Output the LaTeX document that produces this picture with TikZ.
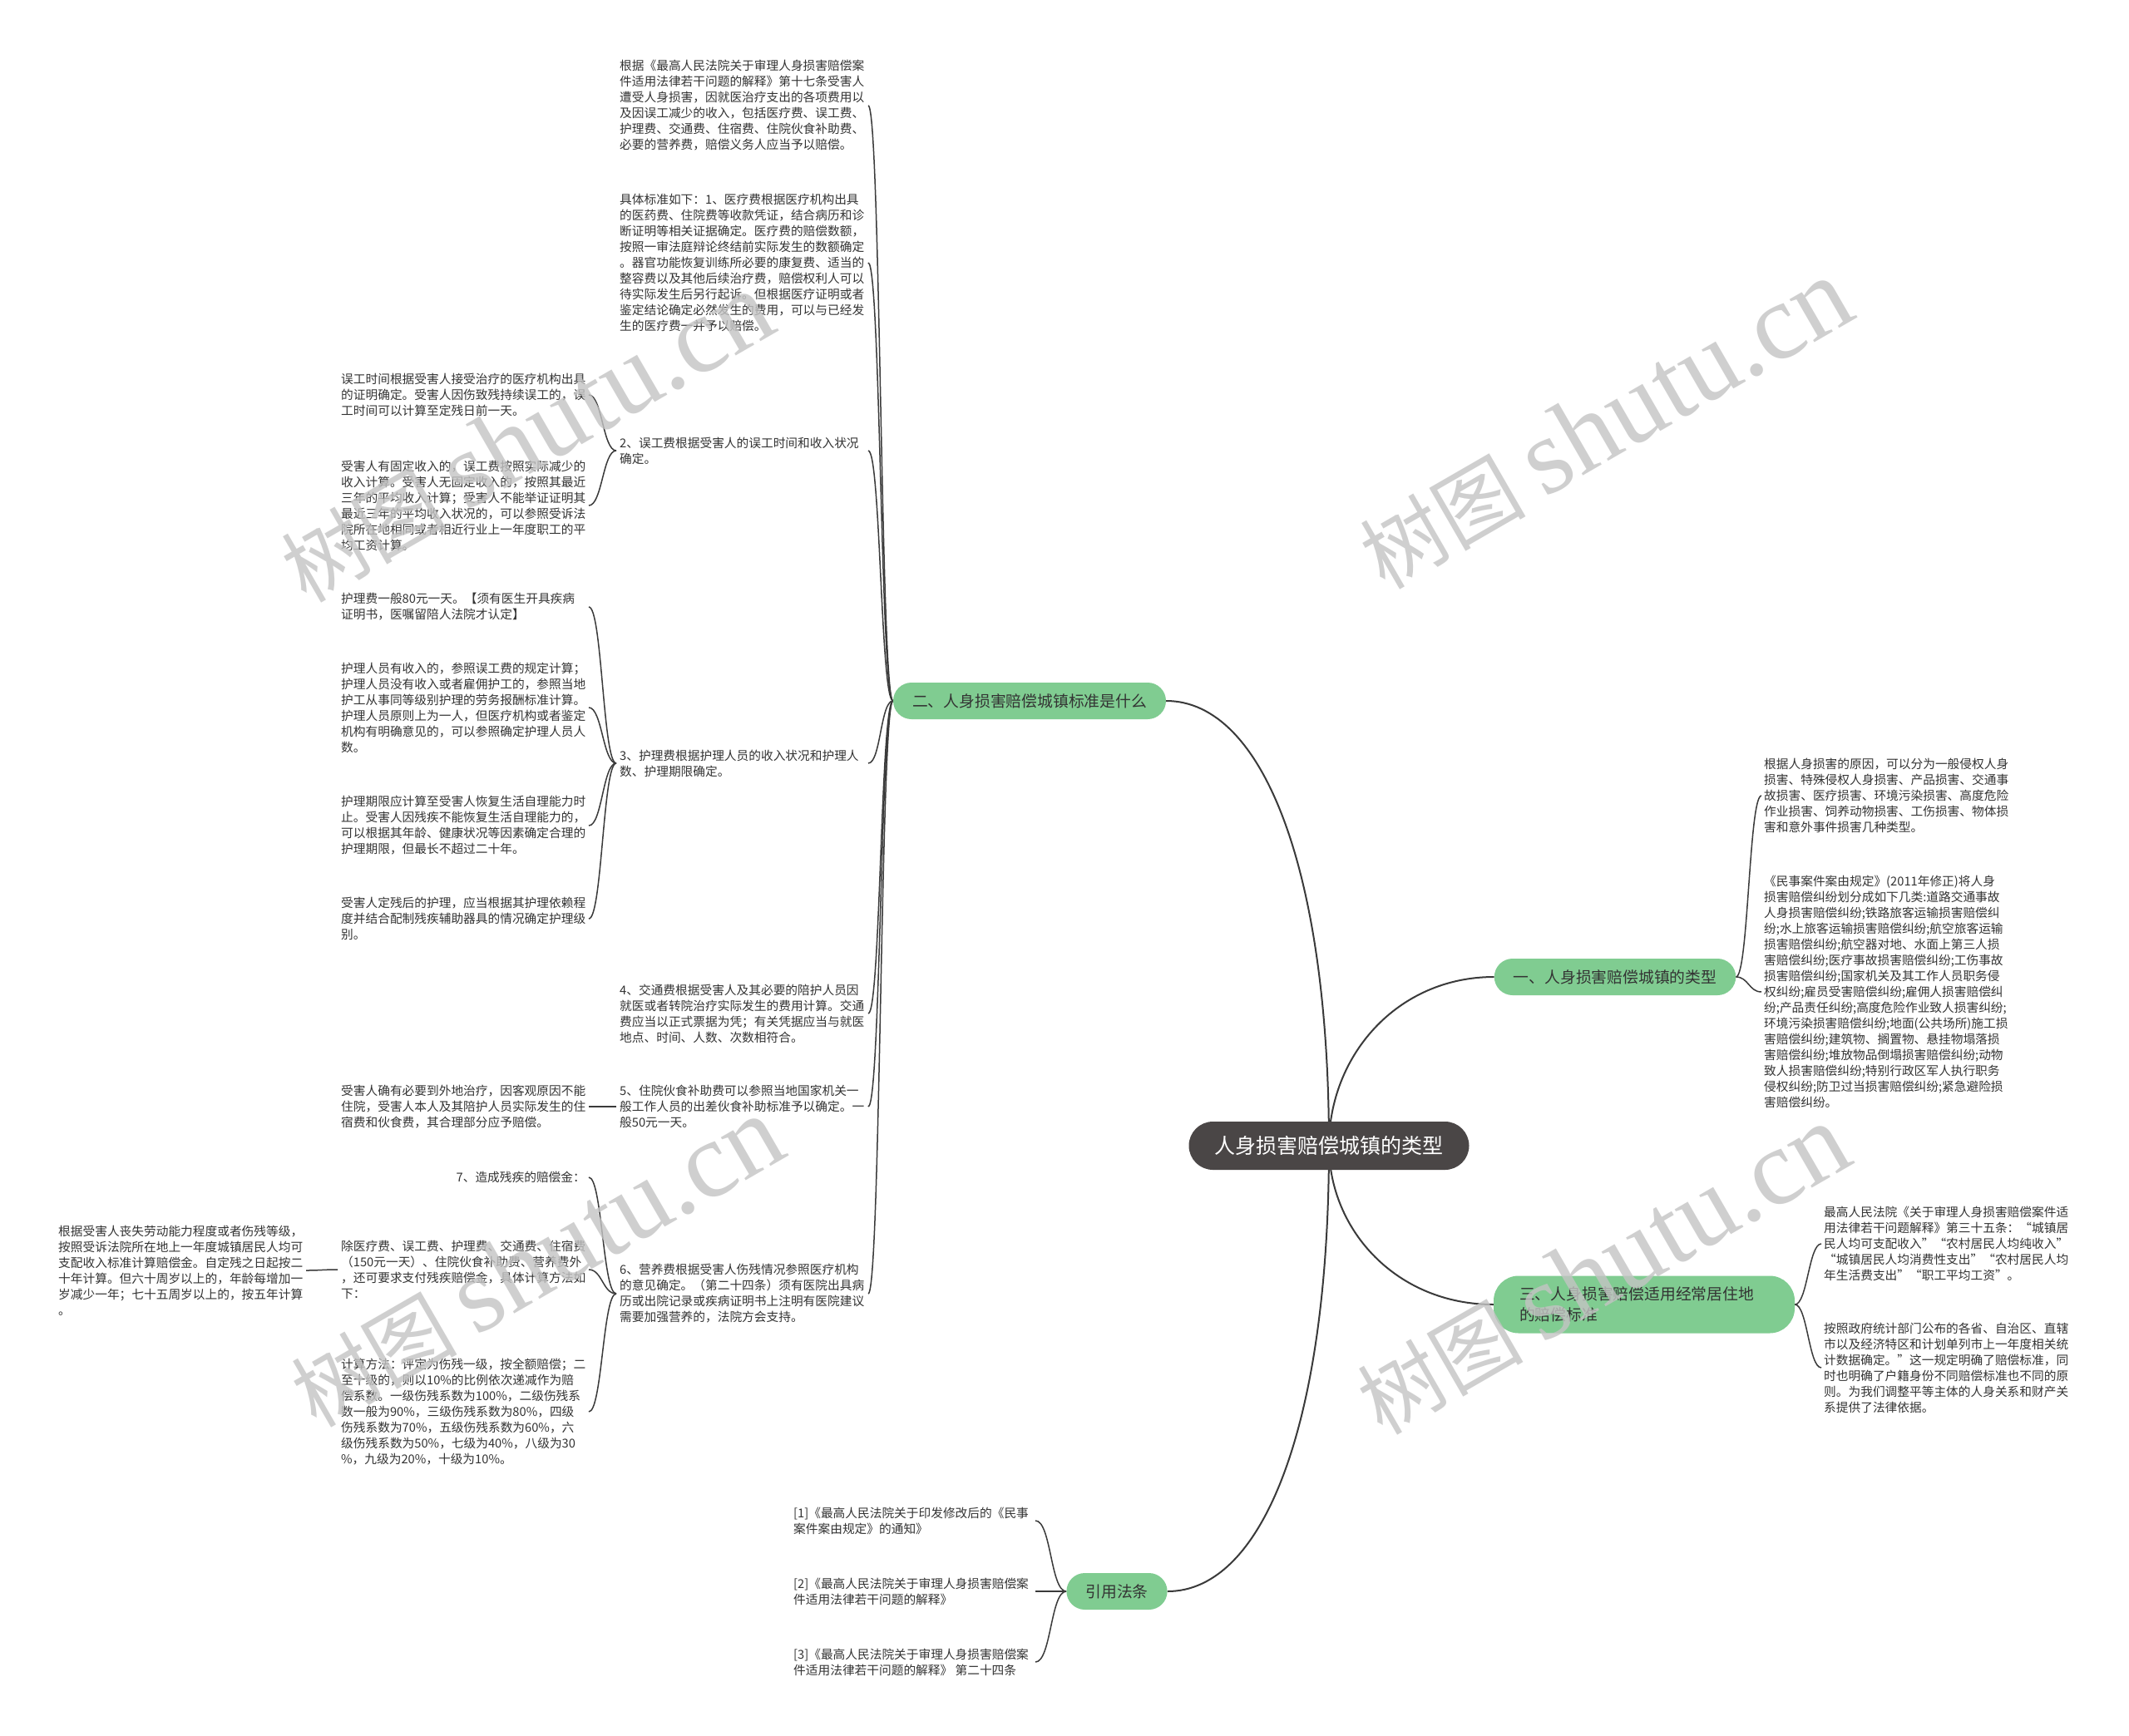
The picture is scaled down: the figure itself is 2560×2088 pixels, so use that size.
\documentclass[tikz,border=0pt]{standalone}
\usepackage{fontspec}
\setmainfont{Noto Sans CJK SC}
\newfontfamily\wmlat{Liberation Serif}
\usetikzlibrary{calc,backgrounds}
\definecolor{mmgreen}{HTML}{80CC91}
\definecolor{mmdark}{HTML}{4A4646}
\definecolor{mmtext}{HTML}{333333}
\definecolor{mmline}{HTML}{3A3A3A}
\definecolor{wmgray}{HTML}{C4C4C4}
\newcommand\brL[4]{\draw[conn] (#1) .. controls +(-#4,0) and +(#4,0) .. ($(#2.west)+(#3,0)$);}
\newcommand\brR[3]{\draw[conn] (#1) .. controls +(#3,0) and +(-#3,0) .. ($(#2.west)+(-3,0)$);}
\begin{document}
\begin{tikzpicture}[x=1pt,y=-1pt,
 conn/.style={draw=mmline,line width=1.5pt},
 mainc/.style={draw=mmline,line width=2pt},
 txt/.style={font=\fontsize{14.7}{19}\selectfont,text=mmtext,align=left,inner sep=0pt,anchor=west},
 txtE/.style={txt,anchor=east},
 gnode/.style={fill=mmgreen,text=mmtext,font=\fontsize{18.8}{25}\selectfont,rounded corners=22pt,minimum height=44pt,inner xsep=23pt,inner ysep=0pt},
 cnode/.style={fill=mmdark,text=white,font=\fontsize{25}{30}\selectfont,rounded corners=29pt,minimum height=58pt,minimum width=337pt,inner sep=0pt},
 wm/.style={text=wmgray,rotate=30,font=\fontsize{100}{100}\selectfont,opacity=0.8,inner sep=0pt}]
\useasboundingbox (0,0) rectangle (2560,2088);

% main nodes
\node[cnode] (c) at (1598,1378) {人身损害赔偿城镇的类型};
\node[gnode] (n2) at (1238,843) {二、人身损害赔偿城镇标准是什么};
\node[gnode] (n1) at (1942,1175) {一、人身损害赔偿城镇的类型};
\node[gnode,align=left,text width=300pt,inner xsep=31pt,minimum height=69pt,rounded corners=30pt] (n3) at (1977,1569) {三、人身损害赔偿适用经常居住地\\的赔偿标准};
\node[gnode] (nr) at (1343,1914) {引用法条};

% children of 二 (right column)
\node[txt] (ra) at (745,127) {根据《最高人民法院关于审理人身损害赔偿案\\件适用法律若干问题的解释》第十七条受害人\\遭受人身损害，因就医治疗支出的各项费用以\\及因误工减少的收入，包括医疗费、误工费、\\护理费、交通费、住宿费、住院伙食补助费、\\必要的营养费，赔偿义务人应当予以赔偿。};
\node[txt] (rb) at (745,316) {具体标准如下：1、医疗费根据医疗机构出具\\的医药费、住院费等收款凭证，结合病历和诊\\断证明等相关证据确定。医疗费的赔偿数额，\\按照一审法庭辩论终结前实际发生的数额确定\\。器官功能恢复训练所必要的康复费、适当的\\整容费以及其他后续治疗费，赔偿权利人可以\\待实际发生后另行起诉。但根据医疗证明或者\\鉴定结论确定必然发生的费用，可以与已经发\\生的医疗费一并予以赔偿。};
\node[txt] (r2) at (745,542) {2、误工费根据受害人的误工时间和收入状况\\确定。};
\node[txt] (r3) at (745,918) {3、护理费根据护理人员的收入状况和护理人\\数、护理期限确定。};
\node[txt] (r4) at (745,1219) {4、交通费根据受害人及其必要的陪护人员因\\就医或者转院治疗实际发生的费用计算。交通\\费应当以正式票据为凭；有关凭据应当与就医\\地点、时间、人数、次数相符合。};
\node[txt] (r5) at (745,1331) {5、住院伙食补助费可以参照当地国家机关一\\般工作人员的出差伙食补助标准予以确定。一\\般50元一天。};
\node[txt] (r6) at (745,1556) {6、营养费根据受害人伤残情况参照医疗机构\\的意见确定。（第二十四条）须有医院出具病\\历或出院记录或疾病证明书上注明有医院建议\\需要加强营养的，法院方会支持。};

% left column
\node[txt] (l21) at (410,475) {误工时间根据受害人接受治疗的医疗机构出具\\的证明确定。受害人因伤致残持续误工的，误\\工时间可以计算至定残日前一天。};
\node[txt] (l22) at (410,608) {受害人有固定收入的，误工费按照实际减少的\\收入计算。受害人无固定收入的，按照其最近\\三年的平均收入计算；受害人不能举证证明其\\最近三年的平均收入状况的，可以参照受诉法\\院所在地相同或者相近行业上一年度职工的平\\均工资计算。};
\node[txt] (l31) at (410,730) {护理费一般80元一天。【须有医生开具疾病\\证明书，医嘱留陪人法院才认定】};
\node[txt] (l32) at (410,851) {护理人员有收入的，参照误工费的规定计算；\\护理人员没有收入或者雇佣护工的，参照当地\\护工从事同等级别护理的劳务报酬标准计算。\\护理人员原则上为一人，但医疗机构或者鉴定\\机构有明确意见的，可以参照确定护理人员人\\数。};
\node[txt] (l33) at (410,993) {护理期限应计算至受害人恢复生活自理能力时\\止。受害人因残疾不能恢复生活自理能力的，\\可以根据其年龄、健康状况等因素确定合理的\\护理期限，但最长不超过二十年。};
\node[txt] (l34) at (410,1105) {受害人定残后的护理，应当根据其护理依赖程\\度并结合配制残疾辅助器具的情况确定护理级\\别。};
\node[txt] (l51) at (410,1331) {受害人确有必要到外地治疗，因客观原因不能\\住院，受害人本人及其陪护人员实际发生的住\\宿费和伙食费，其合理部分应予赔偿。};
\node[txtE] (l61) at (704,1416) {7、造成残疾的赔偿金：};
\node[txt] (l62) at (410,1527) {除医疗费、误工费、护理费、交通费、住宿费\\（150元一天）、住院伙食补助费、营养费外\\，还可要求支付残疾赔偿金，具体计算方法如\\下：};
\node[txt] (l63) at (410,1698) {计算方法：评定为伤残一级，按全额赔偿；二\\至十级的，则以10\%的比例依次递减作为赔\\偿系数。一级伤残系数为100\%，二级伤残系\\数一般为90\%，三级伤残系数为80\%，四级\\伤残系数为70\%，五级伤残系数为60\%，六\\级伤残系数为50\%，七级为40\%，八级为30\\\%，九级为20\%，十级为10\%。};
\node[txt] (ff) at (70,1528) {根据受害人丧失劳动能力程度或者伤残等级，\\按照受诉法院所在地上一年度城镇居民人均可\\支配收入标准计算赔偿金。自定残之日起按二\\十年计算。但六十周岁以上的，年龄每增加一\\岁减少一年；七十五周岁以上的，按五年计算\\。};

% right side
\node[txt] (y1) at (2121,957) {根据人身损害的原因，可以分为一般侵权人身\\损害、特殊侵权人身损害、产品损害、交通事\\故损害、医疗损害、环境污染损害、高度危险\\作业损害、饲养动物损害、工伤损害、物体损\\害和意外事件损害几种类型。};
\node[txt] (y2) at (2121,1193) {《民事案件案由规定》(2011年修正)将人身\\损害赔偿纠纷划分成如下几类:道路交通事故\\人身损害赔偿纠纷;铁路旅客运输损害赔偿纠\\纷;水上旅客运输损害赔偿纠纷;航空旅客运输\\损害赔偿纠纷;航空器对地、水面上第三人损\\害赔偿纠纷;医疗事故损害赔偿纠纷;工伤事故\\损害赔偿纠纷;国家机关及其工作人员职务侵\\权纠纷;雇员受害赔偿纠纷;雇佣人损害赔偿纠\\纷;产品责任纠纷;高度危险作业致人损害纠纷;\\环境污染损害赔偿纠纷;地面(公共场所)施工损\\害赔偿纠纷;建筑物、搁置物、悬挂物塌落损\\害赔偿纠纷;堆放物品倒塌损害赔偿纠纷;动物\\致人损害赔偿纠纷;特别行政区军人执行职务\\侵权纠纷;防卫过当损害赔偿纠纷;紧急避险损\\害赔偿纠纷。};
\node[txt] (s1) at (2193,1496) {最高人民法院《关于审理人身损害赔偿案件适\\用法律若干问题解释》第三十五条：“城镇居\\民人均可支配收入”“农村居民人均纯收入”\\“城镇居民人均消费性支出”“农村居民人均\\年生活费支出”“职工平均工资”。};
\node[txt] (s2) at (2193,1645) {按照政府统计部门公布的各省、自治区、直辖\\市以及经济特区和计划单列市上一年度相关统\\计数据确定。”这一规定明确了赔偿标准，同\\时也明确了户籍身份不同赔偿标准也不同的原\\则。为我们调整平等主体的人身关系和财产关\\系提供了法律依据。};

% references
\node[txt] (f1) at (954,1829) {[1]《最高人民法院关于印发修改后的《民事\\案件案由规定》的通知》};
\node[txt] (f2) at (954,1914) {[2]《最高人民法院关于审理人身损害赔偿案\\件适用法律若干问题的解释》};
\node[txt] (f3) at (954,1999) {[3]《最高人民法院关于审理人身损害赔偿案\\件适用法律若干问题的解释》 第二十四条};

\coordinate (p2) at ($(r2.west)+(-4,0)$);
\coordinate (p3) at ($(r3.west)+(-4,0)$);
\coordinate (p5) at ($(r5.west)+(-4,0)$);
\coordinate (p6) at ($(r6.west)+(-4,0)$);
\coordinate (p62) at ($(l62.west)+(-4,0)$);

\begin{scope}[on background layer]
\fill[white] (0,0) rectangle (2560,2088);
\draw[mainc] (c.center) .. controls +(0,-330) and +(117,0) .. (n2.east);
\draw[mainc] (c.center) .. controls +(0,330) and +(117,0) .. (nr.east);
\draw[mainc] (c.center) .. controls +(0,-108) and +(-117,0) .. (n1.west);
\draw[mainc] (c.center) .. controls +(0,102) and +(-116,0) .. (n3.west);
\foreach \k in {ra,rb,r2,r3,r4,r5,r6} {\brL{n2.west}{\k}{299}{15}}
\foreach \k in {l21,l22} {\brL{p2}{\k}{298}{16}}
\foreach \k in {l31,l32,l33,l34} {\brL{p3}{\k}{298}{16}}
\brL{p5}{l51}{298}{16}
\draw[conn] (p6) .. controls +(-16,0) and +(16,0) .. ($(l61.east)+(4,0)$);
\foreach \k in {l62,l63} {\brL{p6}{\k}{298}{16}}
\brL{p62}{ff}{298}{18}
\foreach \k in {y1,y2} {\brR{n1.east}{\k}{15}}
\foreach \k in {s1,s2} {\brR{n3.east}{\k}{15}}
\foreach \k in {f1,f2,f3} {\brL{nr.west}{\k}{291}{19}}
\end{scope}

% watermarks
\node[wm] (wm1) at (633,526) {树图 {\wmlat\fontsize{130}{130}\selectfont shutu.cn}};
\node[wm] (wm2) at (1930,510) {树图 {\wmlat\fontsize{130}{130}\selectfont shutu.cn}};
\node[wm] (wm3) at (645,1518) {树图 {\wmlat\fontsize{130}{130}\selectfont shutu.cn}};
\node[wm] (wm4) at (1927,1527) {树图 {\wmlat\fontsize{130}{130}\selectfont shutu.cn}};
\end{tikzpicture}
\end{document}
